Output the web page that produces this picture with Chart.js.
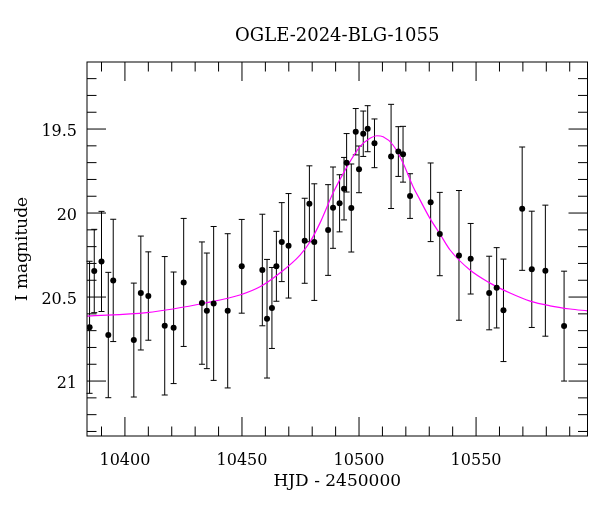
<!DOCTYPE html>
<html><head><meta charset="utf-8">
<script src="https://cdn.jsdelivr.net/npm/chart.js@4.4.1/dist/chart.umd.min.js"></script>
<style>html,body{margin:0;padding:0;background:#fff;}</style>
</head><body>
<canvas id="c" width="600" height="512" style="display:block;width:600px;height:512px"></canvas>
<script>
const TITLE = 'OGLE-2024-BLG-1055';
const X_LABEL = 'HJD - 2450000';
const Y_LABEL = 'I magnitude';
const X_TICKS = [10400, 10450, 10500, 10550];
const Y_TICKS = [19.5, 20, 20.5, 21];

const hjd = [10384.9, 10386.9, 10390.0, 10392.9, 10395.0, 10403.8, 10406.8, 10410.0, 10417.0, 10420.8,
  10425.1, 10432.9, 10435.0, 10437.9, 10443.9, 10449.9, 10458.7, 10460.7, 10462.8, 10464.7,
  10467.0, 10469.9, 10476.8, 10478.8, 10480.9, 10486.8, 10488.9, 10491.7, 10493.6, 10494.7,
  10496.7, 10498.6, 10500.0, 10501.8, 10503.7, 10506.6, 10513.7, 10516.8, 10518.8, 10521.8,
  10530.6, 10534.5, 10542.7, 10547.7, 10555.6, 10558.8, 10561.7, 10569.7, 10573.8, 10579.6, 10587.6];
const mag = [20.680, 20.345, 20.288, 20.726, 20.401, 20.756, 20.476, 20.494, 20.671, 20.683,
  20.413, 20.536, 20.582, 20.538, 20.582, 20.317, 20.339, 20.629, 20.565, 20.317,
  20.173, 20.195, 20.165, 19.945, 20.173, 20.101, 19.968, 19.942, 19.855, 19.701,
  19.970, 19.516, 19.740, 19.528, 19.498, 19.585, 19.663, 19.634, 19.650, 19.899,
  19.936, 20.125, 20.252, 20.272, 20.476, 20.445, 20.579, 19.974, 20.335, 20.343, 20.673];
const magErr = [0.393, 0.248, 0.298, 0.373, 0.364, 0.339, 0.339, 0.263, 0.412, 0.332,
  0.381, 0.364, 0.344, 0.458, 0.459, 0.279, 0.332, 0.353, 0.241, 0.208,
  0.235, 0.311, 0.253, 0.226, 0.347, 0.270, 0.242, 0.170, 0.186, 0.174,
  0.262, 0.138, 0.139, 0.135, 0.137, 0.145, 0.310, 0.148, 0.166, 0.133,
  0.234, 0.248, 0.386, 0.210, 0.219, 0.239, 0.305, 0.367, 0.346, 0.390, 0.327];

const modelHjd = [10383.8, 10409.3, 10434.9, 10449.1, 10457.7, 10466.2, 10474.8, 10479.1, 10483.3, 10488.9,
  10494.9, 10500.4, 10504.7, 10507.6, 10510.3, 10514.5, 10518.8, 10523.1, 10526.1, 10530.3,
  10534.6, 10538.9, 10547.4, 10556.0, 10564.5, 10573.1, 10581.6, 10590.2, 10597.6];
const modelMag = [20.613, 20.593, 20.534, 20.488, 20.439, 20.357, 20.250, 20.171, 20.060, 19.881,
  19.724, 19.605, 19.555, 19.540, 19.546, 19.595, 19.702, 19.843, 19.923, 20.032,
  20.125, 20.220, 20.339, 20.417, 20.476, 20.524, 20.552, 20.571, 20.582];

const FONT = "'DejaVu Serif', 'Liberation Serif', serif";

const errorBars = {
  id: 'errorBars',
  beforeDatasetsDraw(chart) {
    const {ctx, scales: {x, y}} = chart;
    ctx.save();
    ctx.strokeStyle = '#000';
    ctx.lineWidth = 1;
    hjd.forEach((t, i) => {
      const px = x.getPixelForValue(t);
      const y1 = y.getPixelForValue(mag[i] - magErr[i]);
      const y2 = y.getPixelForValue(mag[i] + magErr[i]);
      ctx.beginPath();
      ctx.moveTo(px, y1); ctx.lineTo(px, y2);
      ctx.moveTo(px - 3, y1); ctx.lineTo(px + 3, y1);
      ctx.moveTo(px - 3, y2); ctx.lineTo(px + 3, y2);
      ctx.stroke();
    });
    ctx.restore();
  }
};

const frame = {
  id: 'frame',
  afterDraw(chart) {
    const {ctx, chartArea: a, scales: {x, y}} = chart;
    ctx.save();
    ctx.strokeStyle = '#000';
    ctx.lineWidth = 1;
    ctx.strokeRect(a.left, a.top, a.right - a.left, a.bottom - a.top);
    ctx.beginPath();
    for (let k = Math.ceil(x.min / 10); k * 10 <= x.max; k++) {
      const v = k * 10;
      const L = (v % 50 === 0) ? 19 : 9.5;
      const px = x.getPixelForValue(v);
      ctx.moveTo(px, a.bottom); ctx.lineTo(px, a.bottom - L);
      ctx.moveTo(px, a.top); ctx.lineTo(px, a.top + L);
    }
    for (let k = Math.ceil(y.min * 10); k <= Math.floor(y.max * 10); k++) {
      const L = (k % 5 === 0) ? 19 : 9.5;
      const py = y.getPixelForValue(k / 10);
      ctx.moveTo(a.left, py); ctx.lineTo(a.left + L, py);
      ctx.moveTo(a.right, py); ctx.lineTo(a.right - L, py);
    }
    ctx.stroke();
    ctx.restore();
  }
};

new Chart(document.getElementById('c'), {
  type: 'scatter',
  data: {
    datasets: [
      {
        label: 'OGLE I',
        data: hjd.map((t, i) => ({x: t, y: mag[i]})),
        pointRadius: 3,
        pointBackgroundColor: '#000',
        pointBorderWidth: 0,
        showLine: false
      },
      {
        label: 'model',
        data: modelHjd.map((t, i) => ({x: t, y: modelMag[i]})),
        showLine: true,
        pointRadius: 0,
        borderColor: '#ff00ff',
        borderWidth: 1.2,
        cubicInterpolationMode: 'monotone',
        fill: false
      }
    ]
  },
  options: {
    responsive: false,
    devicePixelRatio: 1,
    animation: false,
    layout: {padding: {left: 0, right: 12.5, top: 0, bottom: 0}},
    plugins: {
      legend: {display: false},
      tooltip: {enabled: false},
      title: {
        display: true,
        text: TITLE,
        fullSize: false,
        color: '#000',
        font: {family: FONT, size: 18, weight: 'normal', lineHeight: 1.2},
        padding: {top: 26, bottom: 14.4}
      }
    },
    scales: {
      x: {
        type: 'linear',
        min: 10383.8,
        max: 10597.6,
        afterBuildTicks: s => { s.ticks = X_TICKS.map(v => ({value: v})); },
        afterFit: s => { s.height = 76; },
        grid: {display: false, drawTicks: false},
        border: {display: false},
        ticks: {
          color: '#000', padding: 15, maxRotation: 0, autoSkip: false,
          font: {family: FONT, size: 16},
          callback: v => String(v)
        },
        title: {
          display: true, text: X_LABEL, color: '#000',
          font: {family: FONT, size: 17, lineHeight: 1.2},
          padding: {top: 0, bottom: 20}
        }
      },
      y: {
        type: 'linear',
        reverse: true,
        min: 19.101,
        max: 21.327,
        afterBuildTicks: s => { s.ticks = Y_TICKS.map(v => ({value: v})); },
        afterFit: s => { s.width = 87; },
        grid: {display: false, drawTicks: false},
        border: {display: false},
        ticks: {
          color: '#000', padding: 10, autoSkip: false, labelOffset: 3,
          font: {family: FONT, size: 16},
          callback: v => String(v)
        },
        title: {
          display: true, text: Y_LABEL, color: '#000',
          font: {family: FONT, size: 17, lineHeight: 1.2},
          padding: {top: 12, bottom: 0}
        }
      }
    }
  },
  plugins: [errorBars, frame]
});
</script>
</body></html>
